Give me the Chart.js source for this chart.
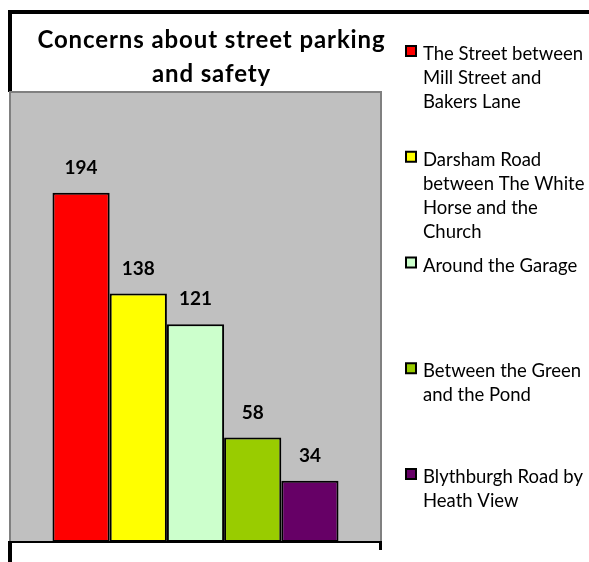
<!DOCTYPE html>
<html>
<head>
<meta charset="utf-8">
<script src="https://cdn.jsdelivr.net/npm/chart.js@4.4.1/dist/chart.umd.min.js"></script>
<style>
html,body{margin:0;padding:0;background:#fff;}
#wrap{position:relative;width:589px;height:562px;}
</style>
</head>
<body>
<div id="wrap"><canvas id="c" width="589" height="562"></canvas></div>
<script>
// ---- data ----
const categories = [''];
const seriesNames = [
  ['The Street between', 'Mill Street and', 'Bakers Lane'],
  ['Darsham Road', 'between The White', 'Horse and the', 'Church'],
  ['Around the Garage'],
  ['Between the Green', 'and the Pond'],
  ['Blythburgh Road by', 'Heath View']
];
const seriesValues = [194, 138, 121, 58, 34];
const seriesColors = ['#FF0000', '#FFFF00', '#CCFFCC', '#99CC00', '#660066'];
const titleLines = ['Concerns about street parking', 'and safety'];
const yMin = 0;
const yMax = 250;

// ---- decoration plugin ----
const deco = {
  id: 'deco',
  beforeDraw(chart) {
    const ctx = chart.ctx, a = chart.chartArea;
    ctx.save();
    ctx.fillStyle = '#fff';
    ctx.fillRect(0, 0, chart.width, chart.height);
    // outer black frame (top + left)
    ctx.fillStyle = '#000';
    ctx.fillRect(8, 10, chart.width - 8, 4);
    ctx.fillRect(8, 10, 4, a.top - 10);
    ctx.fillRect(8, a.bottom, 4, chart.height - a.bottom);
    // plot area
    ctx.fillStyle = '#C0C0C0';
    ctx.fillRect(a.left, a.top, a.right - a.left, a.bottom - a.top);
    ctx.strokeStyle = '#808080';
    ctx.lineWidth = 2;
    ctx.strokeRect(a.left, a.top, a.right - a.left, a.bottom - a.top);
    ctx.restore();
  },
  afterDatasetsDraw(chart) {
    const ctx = chart.ctx, a = chart.chartArea;
    ctx.save();
    // category axis line and end tick
    ctx.fillStyle = '#000';
    ctx.fillRect(8, a.bottom - 1, a.right + 1 - 8, 2);
    ctx.fillRect(a.right - 2, a.bottom - 1, 3, 9);
    // value labels
    ctx.font = 'bold 19px Lato';
    ctx.textAlign = 'center';
    ctx.textBaseline = 'alphabetic';
    chart.data.datasets.forEach((ds, i) => {
      const meta = chart.getDatasetMeta(i);
      meta.data.forEach((bar, j) => {
        ctx.fillText(String(ds.data[j]), bar.x, bar.y - 19);
      });
    });
    // title
    ctx.font = 'bold 24px Lato';
    if ('letterSpacing' in ctx) ctx.letterSpacing = '0.9px';
    const tx = 211.5;
    titleLines.forEach((t, k) => ctx.fillText(t, tx, 48 + k * 34));
    if ('letterSpacing' in ctx) ctx.letterSpacing = '0px';
    // legend
    ctx.textAlign = 'left';
    ctx.font = '18.5px Lato';
    seriesNames.forEach((lines, i) => {
      const base = 60 + i * 105.75;
      ctx.fillStyle = seriesColors[i];
      ctx.fillRect(406, base - 14, 10, 10);
      ctx.strokeStyle = '#000';
      ctx.lineWidth = 2;
      ctx.strokeRect(406, base - 14, 10, 10);
      ctx.fillStyle = '#000';
      lines.forEach((ln, k) => ctx.fillText(ln, 423, base + k * 24));
    });
    ctx.restore();
  }
};

new Chart(document.getElementById('c'), {
  type: 'bar',
  data: {
    labels: categories,
    datasets: seriesNames.map((n, i) => ({
      label: n.join(' '),
      data: [seriesValues[i]],
      backgroundColor: seriesColors[i],
      borderColor: '#000',
      borderWidth: 2,
      borderSkipped: false,
      categoryPercentage: 0.771,
      barPercentage: 1
    }))
  },
  options: {
    responsive: false,
    devicePixelRatio: 1,
    animation: false,
    layout: { padding: { left: 10, top: 92, right: 208, bottom: 20 } },
    plugins: { legend: { display: false }, title: { display: false }, tooltip: { enabled: false } },
    scales: {
      x: { display: false },
      y: { display: false, min: yMin, max: yMax }
    }
  },
  plugins: [deco]
});
</script>
</body>
</html>
